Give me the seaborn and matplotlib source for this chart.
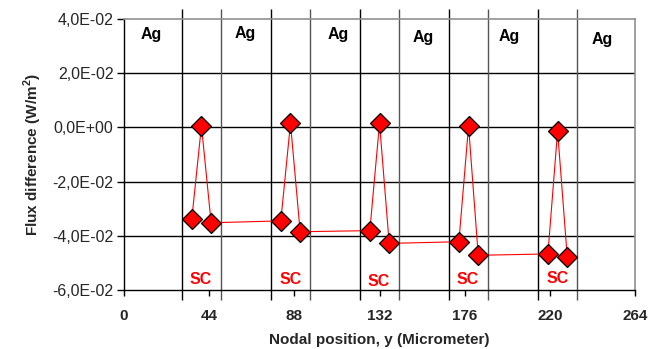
import matplotlib
matplotlib.use("Agg")
import matplotlib.pyplot as plt
import seaborn as sns
import pandas as pd
from matplotlib.ticker import FuncFormatter, FixedLocator

# Data
node_pos = [35, 40, 45, 81, 86, 91, 127, 132, 137, 173, 178, 183, 219, 224, 229]
flux_diff = [-0.0339, 0.0006, -0.0352,
             -0.0345, 0.0015, -0.0385,
             -0.0381, 0.0015, -0.0428,
             -0.0422, 0.0005, -0.0472,
             -0.0467, -0.0013, -0.0479]
sc_bounds = [30, 50, 76, 96, 122, 142, 168, 188, 214, 234]
ag_x = [14.3, 62.5, 110.9, 154.6, 198.9, 247.1]
ag_y = [0.0341, 0.0347, 0.0341, 0.0332, 0.0335, 0.0323]
sc_x = [39.6, 86.3, 131.4, 177.6, 224.1]
sc_y = [-0.0563, -0.0561, -0.0568, -0.0561, -0.0557]
x_ticks = [0, 44, 88, 132, 176, 220, 264]
y_ticks = [-0.06, -0.04, -0.02, 0.0, 0.02, 0.04]

sns.set_theme(style="white")
plt.rcParams['font.family'] = ['Liberation Sans', 'DejaVu Sans']
plt.rcParams['mathtext.fontset'] = 'custom'
plt.rcParams['mathtext.rm'] = 'Liberation Sans'
plt.rcParams['mathtext.bf'] = 'Liberation Sans:bold'

fig = plt.figure(figsize=(6.59, 3.49), dpi=100)
ax = fig.add_axes([0.1882, 0.1691, 0.9636 - 0.1882, 0.9456 - 0.1691])

df = pd.DataFrame({"x": node_pos, "y": flux_diff})

# horizontal gridlines
for yv in y_ticks[1:-1]:
    ax.axhline(yv, color='black', lw=1.0, zorder=1)

# vertical layer boundaries extending beyond the plot area
for i, xv in enumerate(sc_bounds):
    col = 'black' if i % 2 == 0 else '#555555'
    ax.vlines(xv, -0.037, 1.037, transform=ax.get_xaxis_transform(),
              colors=col, lw=1.0, clip_on=False, zorder=1)

sns.lineplot(data=df, x="x", y="y", sort=False, ax=ax, color='red', lw=0.8,
             marker='D', markersize=10.5, markerfacecolor='red',
             markeredgecolor='black', markeredgewidth=0.9, zorder=3)

for xv, yv in zip(ag_x, ag_y):
    ax.text(xv, yv, "Ag", ha='center', va='center', fontsize=11.5,
            fontweight='bold', color='black')
for xv, yv in zip(sc_x, sc_y):
    ax.text(xv, yv, "SC", ha='center', va='center', fontsize=11.5,
            fontweight='bold', color='red')

ax.set_xlim(0, 264)
ax.set_ylim(-0.06, 0.04)
ax.xaxis.set_major_locator(FixedLocator(x_ticks))
ax.yaxis.set_major_locator(FixedLocator(y_ticks))

def yfmt(v, pos):
    s = "%.1E" % v
    if abs(v) < 1e-12:
        s = "0.0E+00"
    return s.replace('.', ',')

ax.yaxis.set_major_formatter(FuncFormatter(yfmt))
ax.tick_params(axis='y', direction='out', length=5, width=1, color='black',
               labelsize=11.5, pad=2.5, left=True)
ax.tick_params(axis='x', direction='out', length=4, width=1, color='black',
               labelsize=11, pad=10, bottom=True)
for lab in ax.get_xticklabels():
    lab.set_fontweight('bold')

for side in ['left', 'bottom']:
    ax.spines[side].set_color('black')
    ax.spines[side].set_linewidth(1.0)
for side in ['top', 'right']:
    ax.spines[side].set_color('#909090')
    ax.spines[side].set_linewidth(1.2)

ax.set_xlabel("Nodal position, y (Micrometer)", fontsize=11, fontweight='bold',
              labelpad=7)
ax.set_ylabel(r"Flux difference (W/m$^{\mathbf{2}}$)", fontsize=11,
              fontweight='bold', labelpad=6)

fig.savefig("out.png", dpi=100)
